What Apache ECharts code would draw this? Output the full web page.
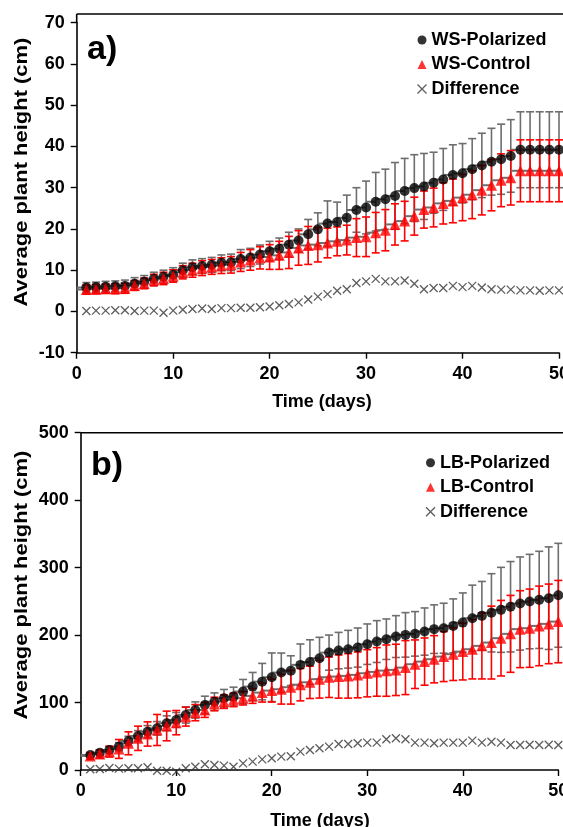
<!DOCTYPE html>
<html>
<head>
<meta charset="utf-8">
<script src="https://cdn.jsdelivr.net/npm/echarts@6/dist/echarts.min.js"></script>
<style>html,body{margin:0;padding:0;background:#fff;}#c{width:563px;height:827px;}</style>
</head>
<body>
<div id="c"></div>
<script>
const days = [1,2,3,4,5,6,7,8,9,10,11,12,13,14,15,16,17,18,19,20,21,22,23,24,25,26,27,28,29,30,31,32,33,34,35,36,37,38,39,40,41,42,43,44,45,46,47,48,49,50];
const xTicks = [0,10,20,30,40,50];

// Panel a (WS)
const wsPolarized = [5.8,5.9,6.0,6.1,6.2,6.7,7.2,7.9,8.4,8.9,10.0,10.7,11.0,11.3,11.8,11.9,12.7,13.1,13.8,14.6,15.2,16.2,17.2,18.7,19.9,21.3,21.7,22.7,24.6,25.2,26.6,27.2,28.0,29.2,29.9,30.3,31.2,32.0,33.1,33.5,34.5,35.4,36.3,36.9,37.7,39.2,39.2,39.2,39.2,39.2];
const wsPolarizedErr = [1.2,1.2,1.3,1.3,1.4,1.5,1.5,1.6,1.6,1.7,1.7,1.8,1.8,1.8,1.9,2.0,2.3,2.2,2.3,2.4,2.6,3.0,2.8,3.6,4.0,5.5,4.8,5.5,5.4,6.4,7.1,7.3,8.1,7.9,8.1,8.0,7.4,7.5,7.3,7.2,7.4,7.8,8.1,8.5,8.8,9.2,9.2,9.2,9.2,9.2];
const wsControl = [5.3,5.4,5.5,5.5,5.6,6.3,6.8,7.6,8.0,8.6,9.5,10.0,10.5,10.8,11.1,11.3,12.0,12.5,13.0,13.2,13.6,14.3,15.4,16.0,16.2,16.6,17.0,17.3,17.9,18.1,19.1,19.7,21.1,21.9,23.1,24.7,25.2,26.2,26.8,27.6,28.3,29.4,30.6,31.8,32.4,34.1,34.1,34.1,34.1,34.1];
const wsControlErr = [1.1,1.1,1.1,1.2,1.2,1.2,1.3,1.4,1.5,1.5,1.6,1.7,1.8,1.8,1.9,2.0,2.3,2.5,2.7,3.0,3.4,3.9,4.2,4.6,4.2,3.6,3.5,3.6,4.6,4.8,4.9,5.0,5.0,4.8,4.6,4.5,4.7,5.0,5.3,5.6,5.8,6.0,6.2,6.4,6.6,7.5,7.5,7.5,7.5,7.5];
const wsDifference = [0.1,0.2,0.2,0.3,0.3,0.1,0.2,0.2,-0.3,0.2,0.4,0.6,0.7,0.6,0.8,0.8,0.9,0.9,1.0,1.2,1.5,1.8,2.2,2.9,3.6,4.2,5.0,5.4,6.9,7.3,7.9,7.3,7.3,7.5,6.7,5.4,5.7,5.7,6.2,5.9,6.2,5.8,5.4,5.3,5.3,5.1,5.1,5.0,5.1,5.1];
const yTicksA = [-10,0,10,20,30,40,50,60,70];

// Panel b (LB)
const lbPolarized = [22.3,25.7,29.7,34.6,43,50.4,56.8,61.8,69.3,74.2,81.6,89,96.4,101.3,106.4,108.8,116.2,123.6,131,137.5,144.4,147.3,155.8,160,165.7,174,177,179,181.5,186.5,190.4,193.9,197.8,200.3,201.8,205.2,208.8,210.2,213.6,218.5,225,228.5,233,237.4,242,246.8,249.7,252.2,254.7,259];
const lbPolarizedErr = [3,4,5,6,7,8,9,10,11,11,12,12,13,13,13,14,18,21,27,36,29,22,31,33,31,26,27,28,29,30,31,30,31,33,33,35,36,37,40,44,49,51,58,63,67,69,70,72,76,77];
const lbControl = [20.8,23.7,27.2,31.2,39.6,47,53.4,59.3,65.3,70.2,79.1,85,89,97.9,101.3,103.9,106.4,109.8,114.7,117.7,119.7,122.7,126.5,130,134.6,137.5,138.5,139.5,141,143.4,145.4,147.3,148.4,151.8,156.8,160.7,164.2,168.1,171.7,175.5,179,184,188.9,195.4,201.8,208.8,210.2,213.6,216.6,220];
const lbControlErr = [5,6,8,14,17,18,18,23,22,18,14,12,11,10,10,10,10,11,14,17,22,25,24,24,28,30,32,33,34,35,36,38,38,40,36,35,35,37,39,42,44,49,54,56,57,57,58,59,59,61];
const lbDifference = [1,1.5,3,2,2.5,2.5,4,-1,-1,-2.5,2.5,4.9,8.4,7.4,6.5,4.9,9.8,12.4,15.8,17.3,19.8,20.5,27.2,29.7,32.2,34.6,38.6,38.6,39.6,40.6,40.6,45.5,47,45.5,40.6,40.6,39.6,40.6,40.6,40.6,43.5,40.6,42,40.6,37.1,37.1,37.5,37.1,37.5,37.1];
const yTicksB = [0,100,200,300,400,500];

const FONT = '"Liberation Sans", Arial, sans-serif';
const GRAY = '#6e6e6e';
const XPATH = 'path://M0,0L10,10M10,0L0,10';

function errRender(color) {
  return function (params, api) {
    const x = api.value(0), y = api.value(1), e = api.value(2);
    const top = api.coord([x, y + e]);
    const bot = api.coord([x, y - e]);
    const c = api.coord([x, y]);
    const prev = api.coord([x - 1, y]);
    const cw = 4;
    return {
      type: 'group',
      children: [
        { type: 'line', shape: { x1: prev[0], y1: c[1], x2: c[0], y2: c[1] }, style: { stroke: GRAY, lineWidth: 2 } },
        { type: 'line', shape: { x1: top[0], y1: top[1], x2: bot[0], y2: bot[1] }, style: { stroke: color, lineWidth: 1.6 } },
        { type: 'line', shape: { x1: top[0] - cw, y1: top[1], x2: top[0] + cw, y2: top[1] }, style: { stroke: color, lineWidth: 1.6 } },
        { type: 'line', shape: { x1: bot[0] - cw, y1: bot[1], x2: bot[0] + cw, y2: bot[1] }, style: { stroke: color, lineWidth: 1.6 } }
      ]
    };
  };
}
function triple(v, e) { return days.map((d, i) => [d, v[i], e[i]]); }
function pairs(v) { return days.map((d, i) => [d, v[i]]); }

const axisCommon = {
  axisLine: { onZero: false, lineStyle: { color: '#000', width: 1.6 } },
  axisTick: { inside: false, length: 6, lineStyle: { color: '#000', width: 1.4 } },
  splitLine: { show: false },
  axisLabel: { color: '#000', fontSize: 18, fontWeight: 'bold', fontFamily: FONT }
};

function xAx(gi) {
  return Object.assign({}, axisCommon, {
    type: 'value', gridIndex: gi, min: xTicks[0], max: xTicks[xTicks.length - 1], interval: 10,
    axisLabel: Object.assign({}, axisCommon.axisLabel, { margin: 12, showMaxLabel: true })
  });
}
function yAx(gi, ticks) {
  return Object.assign({}, axisCommon, {
    type: 'value', gridIndex: gi, min: ticks[0], max: ticks[ticks.length - 1], interval: ticks[1] - ticks[0],
    axisLabel: Object.assign({}, axisCommon.axisLabel, { margin: 12 })
  });
}

function panelSeries(gi, names, pol, polE, ctl, ctlE, dif) {
  return [
    { type: 'custom', xAxisIndex: gi, yAxisIndex: gi, renderItem: errRender(GRAY), data: triple(pol, polE), z: 1, silent: true, clip: false },
    { type: 'custom', xAxisIndex: gi, yAxisIndex: gi, renderItem: errRender('#ff0000'), data: triple(ctl, ctlE), z: 2, silent: true, clip: false },
    { type: 'scatter', name: names[0], xAxisIndex: gi, yAxisIndex: gi, symbol: 'circle', symbolSize: 10, itemStyle: { color: '#000' }, data: pairs(pol), z: 3, clip: false },
    { type: 'scatter', name: names[1], xAxisIndex: gi, yAxisIndex: gi, symbol: 'triangle', symbolSize: 11, itemStyle: { color: '#ff0000' }, data: pairs(ctl), z: 4, clip: false },
    { type: 'scatter', name: names[2], xAxisIndex: gi, yAxisIndex: gi, symbol: XPATH, symbolSize: 8, itemStyle: { color: 'none', borderColor: '#333', borderWidth: 1.3 }, data: pairs(dif), z: 5, clip: false }
  ];
}

function legend(left, top, names) {
  return {
    orient: 'vertical', left: left, top: top, padding: 0, itemWidth: 9, itemHeight: 9, itemGap: 6.5,
    selectedMode: false,
    textStyle: { fontSize: 18, fontWeight: 'bold', fontFamily: FONT, color: '#000', lineHeight: 18 },
    data: [
      { name: names[0], icon: 'circle', itemStyle: { color: '#000' } },
      { name: names[1], icon: 'triangle', itemStyle: { color: '#ff0000' } },
      { name: names[2], icon: XPATH, itemStyle: { color: 'none', borderColor: '#333', borderWidth: 1.3 } }
    ]
  };
}

const chart = echarts.init(document.getElementById('c'), null, { renderer: 'canvas' });
chart.setOption({
  animation: false,
  backgroundColor: '#fff',
  grid: [
    { left: 76.7, top: 22.7, width: 482.3, height: 330, containLabel: false, outerBoundsMode: 'none' },
    { left: 80.7, top: 432.7, width: 477.6, height: 337.3, containLabel: false, outerBoundsMode: 'none' }
  ],
  xAxis: [xAx(0), xAx(1)],
  yAxis: [yAx(0, yTicksA), yAx(1, yTicksB)],
  legend: [
    legend(415, 31, ['WS-Polarized', 'WS-Control', 'Difference']),
    legend(423.5, 453.7, ['LB-Polarized', 'LB-Control', 'Difference'])
  ],
  graphic: [
    { type: 'line', shape: { x1: 76.7, y1: 14, x2: 563, y2: 14 }, style: { stroke: '#000', lineWidth: 1.6 } },
    { type: 'line', shape: { x1: 76.7, y1: 14, x2: 76.7, y2: 23 }, style: { stroke: '#000', lineWidth: 1.6 } },
    { type: 'line', shape: { x1: 80.7, y1: 432.7, x2: 563, y2: 432.7 }, style: { stroke: '#000', lineWidth: 1.6 } },
    { type: 'text', x: 87, y: 50, style: { text: 'a)', font: 'bold 34px ' + FONT, fill: '#000', textVerticalAlign: 'middle' } },
    { type: 'text', x: 91, y: 466, style: { text: 'b)', font: 'bold 34px ' + FONT, fill: '#000', textVerticalAlign: 'middle' } },
    { type: 'text', x: 22, y: 172, rotation: Math.PI / 2, scaleX: 1.22, style: { text: 'Average plant height (cm)', font: 'bold 18px ' + FONT, fill: '#000', textAlign: 'center', textVerticalAlign: 'middle' } },
    { type: 'text', x: 22, y: 585, rotation: Math.PI / 2, scaleX: 1.22, style: { text: 'Average plant height (cm)', font: 'bold 18px ' + FONT, fill: '#000', textAlign: 'center', textVerticalAlign: 'middle' } },
    { type: 'text', x: 322, y: 402, style: { text: 'Time (days)', font: 'bold 18px ' + FONT, fill: '#000', textAlign: 'center', textVerticalAlign: 'middle' } },
    { type: 'text', x: 320, y: 821, style: { text: 'Time (days)', font: 'bold 18px ' + FONT, fill: '#000', textAlign: 'center', textVerticalAlign: 'middle' } }
  ],
  series: [].concat(
    panelSeries(0, ['WS-Polarized', 'WS-Control', 'Difference'], wsPolarized, wsPolarizedErr, wsControl, wsControlErr, wsDifference),
    panelSeries(1, ['LB-Polarized', 'LB-Control', 'Difference'], lbPolarized, lbPolarizedErr, lbControl, lbControlErr, lbDifference)
  )
});
</script>
</body>
</html>
